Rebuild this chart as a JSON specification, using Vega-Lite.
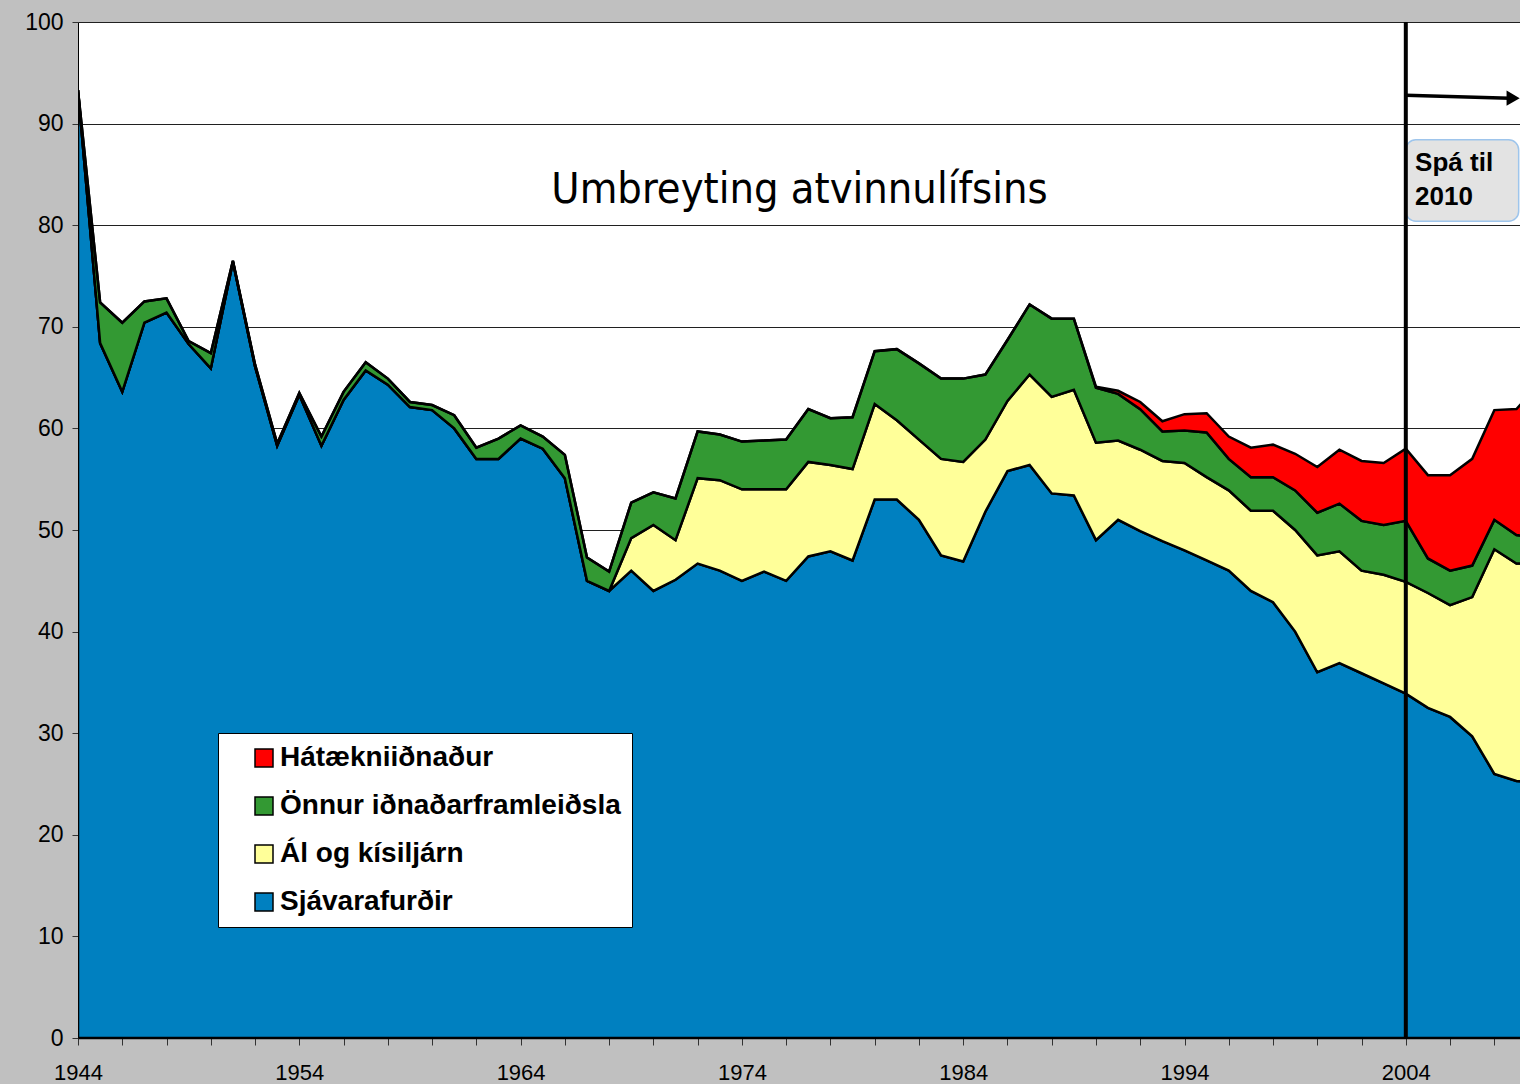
{
  "$schema": "https://vega.github.io/schema/vega-lite/v6.json",
  "width": 1442,
  "height": 1016,
  "autosize": {"type": "none"},
  "padding": {"left": 78, "top": 22, "right": 0, "bottom": 46},
  "background": "#C0C0C0",
  "config": {
    "view": {"fill": "white", "stroke": null},
    "axis": {"labelFont": "Liberation Sans", "labelColor": "black", "labelFontSize": 22, "domainColor": "black", "tickColor": "#333333", "title": null}
  },
  "layer": [
    {
      "data": {"values": [
        {"y":1944,"s":93.3,"a":0,"o":0,"h":0},
        {"y":1945,"s":68.4,"a":0,"o":4.0,"h":0},
        {"y":1946,"s":63.6,"a":0,"o":6.8,"h":0},
        {"y":1947,"s":70.4,"a":0,"o":2.1,"h":0},
        {"y":1948,"s":71.4,"a":0,"o":1.4,"h":0},
        {"y":1949,"s":68.3,"a":0,"o":0.3,"h":0},
        {"y":1950,"s":65.9,"a":0,"o":1.5,"h":0},
        {"y":1951,"s":76.4,"a":0,"o":0.1,"h":0},
        {"y":1952,"s":66.1,"a":0,"o":0.2,"h":0},
        {"y":1953,"s":58.3,"a":0,"o":0.2,"h":0},
        {"y":1954,"s":63.3,"a":0,"o":0.2,"h":0},
        {"y":1955,"s":58.3,"a":0,"o":0.9,"h":0},
        {"y":1956,"s":62.8,"a":0,"o":0.8,"h":0},
        {"y":1957,"s":65.7,"a":0,"o":0.8,"h":0},
        {"y":1958,"s":64.3,"a":0,"o":0.6,"h":0},
        {"y":1959,"s":62.1,"a":0,"o":0.5,"h":0},
        {"y":1960,"s":61.8,"a":0,"o":0.5,"h":0},
        {"y":1961,"s":60.0,"a":0,"o":1.3,"h":0},
        {"y":1962,"s":57.0,"a":0,"o":1.1,"h":0},
        {"y":1963,"s":57.0,"a":0,"o":2.0,"h":0},
        {"y":1964,"s":59.0,"a":0,"o":1.3,"h":0},
        {"y":1965,"s":58.0,"a":0,"o":1.2,"h":0},
        {"y":1966,"s":55.1,"a":0,"o":2.3,"h":0},
        {"y":1967,"s":45.0,"a":0,"o":2.3,"h":0},
        {"y":1968,"s":44.0,"a":0,"o":1.9,"h":0},
        {"y":1969,"s":46.0,"a":3.2,"o":3.5,"h":0},
        {"y":1970,"s":44.0,"a":6.5,"o":3.2,"h":0},
        {"y":1971,"s":45.1,"a":3.9,"o":4.1,"h":0},
        {"y":1972,"s":46.7,"a":8.4,"o":4.6,"h":0},
        {"y":1973,"s":46.0,"a":8.9,"o":4.5,"h":0},
        {"y":1974,"s":45.0,"a":9.0,"o":4.7,"h":0},
        {"y":1975,"s":45.9,"a":8.1,"o":4.8,"h":0},
        {"y":1976,"s":45.0,"a":9.0,"o":4.9,"h":0},
        {"y":1977,"s":47.4,"a":9.3,"o":5.2,"h":0},
        {"y":1978,"s":47.9,"a":8.5,"o":4.6,"h":0},
        {"y":1979,"s":47.0,"a":9.0,"o":5.1,"h":0},
        {"y":1980,"s":53.0,"a":9.4,"o":5.2,"h":0},
        {"y":1981,"s":53.0,"a":7.8,"o":7.0,"h":0},
        {"y":1982,"s":51.0,"a":7.9,"o":7.5,"h":0},
        {"y":1983,"s":47.5,"a":9.5,"o":7.9,"h":0},
        {"y":1984,"s":46.9,"a":9.8,"o":8.2,"h":0},
        {"y":1985,"s":51.8,"a":7.1,"o":6.4,"h":0},
        {"y":1986,"s":55.8,"a":6.9,"o":6.0,"h":0},
        {"y":1987,"s":56.4,"a":8.9,"o":6.9,"h":0},
        {"y":1988,"s":53.6,"a":9.5,"o":7.7,"h":0},
        {"y":1989,"s":53.4,"a":10.4,"o":7.0,"h":0},
        {"y":1990,"s":49.0,"a":9.6,"o":5.4,"h":0.1},
        {"y":1991,"s":51.0,"a":7.8,"o":4.6,"h":0.3},
        {"y":1992,"s":49.9,"a":8.0,"o":4.0,"h":0.7},
        {"y":1993,"s":48.9,"a":7.9,"o":2.9,"h":1.0},
        {"y":1994,"s":48.0,"a":8.6,"o":3.2,"h":1.6},
        {"y":1995,"s":47.0,"a":8.2,"o":4.4,"h":1.9},
        {"y":1996,"s":46.0,"a":7.9,"o":3.1,"h":2.2},
        {"y":1997,"s":44.0,"a":7.9,"o":3.3,"h":2.9},
        {"y":1998,"s":42.9,"a":9.0,"o":3.3,"h":3.2},
        {"y":1999,"s":40.0,"a":10.0,"o":3.9,"h":3.6},
        {"y":2000,"s":36.0,"a":11.5,"o":4.2,"h":4.5},
        {"y":2001,"s":36.9,"a":11.0,"o":4.7,"h":5.3},
        {"y":2002,"s":35.9,"a":10.1,"o":4.9,"h":5.9},
        {"y":2003,"s":34.9,"a":10.7,"o":4.9,"h":6.1},
        {"y":2004,"s":33.9,"a":11.0,"o":6.0,"h":7.1},
        {"y":2005,"s":32.5,"a":11.3,"o":3.4,"h":8.2},
        {"y":2006,"s":31.6,"a":11.0,"o":3.4,"h":9.4},
        {"y":2007,"s":29.7,"a":13.7,"o":3.1,"h":10.5},
        {"y":2008,"s":26.0,"a":22.1,"o":2.9,"h":10.8},
        {"y":2009,"s":25.3,"a":21.4,"o":2.8,"h":12.4},
        {"y":2010,"s":25.1,"a":21.6,"o":2.5,"h":15.2}
      ]},
      "transform": [
        {"fold": ["s", "a", "o", "h"], "as": ["key", "v"]},
        {"calculate": "indexof(['s','a','o','h'], datum.key)", "as": "k"}
      ],
      "mark": {"type": "area", "stroke": "black", "strokeWidth": 2.5, "clip": true, "opacity": 1},
      "encoding": {
        "x": {
          "field": "y", "type": "quantitative",
          "scale": {"domain": [1944, 2009.16], "nice": false, "zero": false},
          "axis": {
            "values": [1944,1945,1946,1947,1948,1949,1950,1951,1952,1953,1954,1955,1956,1957,1958,1959,1960,1961,1962,1963,1964,1965,1966,1967,1968,1969,1970,1971,1972,1973,1974,1975,1976,1977,1978,1979,1980,1981,1982,1983,1984,1985,1986,1987,1988,1989,1990,1991,1992,1993,1994,1995,1996,1997,1998,1999,2000,2001,2002,2003,2004,2005,2006,2007,2008,2009],
            "labelExpr": "(datum.value - 1944) % 10 == 0 ? '' + datum.value : ''",
            "labelOverlap": false, "labelFlush": false,
            "tickSize": 7, "labelPadding": 17, "grid": false, "domainWidth": 1.5
          }
        },
        "y": {
          "field": "v", "type": "quantitative", "stack": "zero",
          "scale": {"domain": [0, 100], "nice": false},
          "axis": {
            "values": [0,10,20,30,40,50,60,70,80,90,100],
            "grid": true, "gridColor": "#202020", "gridWidth": 1,
            "tickSize": 6, "labelPadding": 9, "labelFontSize": 23
          }
        },
        "color": {
          "field": "key", "type": "nominal",
          "scale": {"domain": ["h", "o", "a", "s"], "range": ["#FF0000", "#339933", "#FFFF99", "#0080C0"]},
          "legend": {
            "title": null, "orient": "none", "legendX": 140, "legendY": 711,
            "fillColor": "white", "strokeColor": "black", "padding": 11,
            "symbolOffset": 21, "symbolType": "square", "symbolSize": 324,
            "symbolStrokeColor": "black", "symbolStrokeWidth": 1.5, "symbolOpacity": 1,
            "labelFont": "Liberation Sans", "labelFontSize": 28, "labelFontWeight": "bold",
            "labelColor": "black", "labelOffset": 2, "rowPadding": 20, "labelLimit": 500,
            "labelExpr": "{'h':'Hátækniiðnaður','o':'Önnur iðnaðarframleiðsla','a':'Ál og kísiljárn','s':'Sjávarafurðir'}[datum.value]"
          }
        },
        "order": {"field": "k", "type": "quantitative"}
      }
    },
    {
      "data": {"values": [{}]},
      "mark": {"type": "rect", "fill": "#E3E3E3", "stroke": "#9EC5EC", "strokeWidth": 1.5, "cornerRadius": 10, "clip": true},
      "encoding": {
        "x": {"datum": 2004}, "x2": {"datum": 2009.1},
        "y": {"datum": 88.4}, "y2": {"datum": 80.4}
      }
    },
    {
      "data": {"values": [{}]},
      "mark": {"type": "rule", "color": "black", "strokeWidth": 4},
      "encoding": {"x": {"datum": 2004}}
    },
    {
      "data": {"values": [{}]},
      "mark": {"type": "rule", "color": "black", "strokeWidth": 3.5, "clip": true},
      "encoding": {
        "x": {"datum": 2004}, "x2": {"datum": 2008.7},
        "y": {"datum": 92.8}, "y2": {"datum": 92.5}
      }
    },
    {
      "data": {"values": [{}]},
      "mark": {"type": "point", "shape": "triangle-right", "filled": true, "color": "black", "size": 230, "opacity": 1, "clip": true},
      "encoding": {"x": {"datum": 2008.85}, "y": {"datum": 92.5}}
    },
    {
      "data": {"values": [{}]},
      "mark": {"type": "text", "text": "Spá til", "align": "left", "baseline": "alphabetic", "font": "Liberation Sans", "fontSize": 26, "fontWeight": "bold", "color": "black"},
      "encoding": {"x": {"datum": 2004.42}, "y": {"datum": 85.3}}
    },
    {
      "data": {"values": [{}]},
      "mark": {"type": "text", "text": "2010", "align": "left", "baseline": "alphabetic", "font": "Liberation Sans", "fontSize": 26, "fontWeight": "bold", "color": "black"},
      "encoding": {"x": {"datum": 2004.42}, "y": {"datum": 82.0}}
    },
    {
      "data": {"values": [{}]},
      "mark": {"type": "text", "text": "Umbreyting atvinnulífsins", "align": "center", "baseline": "alphabetic", "font": "DejaVu Sans Condensed, Liberation Sans, sans-serif", "fontSize": 43, "color": "black"},
      "encoding": {"x": {"datum": 1976.6}, "y": {"datum": 82.2}}
    }
  ]
}
